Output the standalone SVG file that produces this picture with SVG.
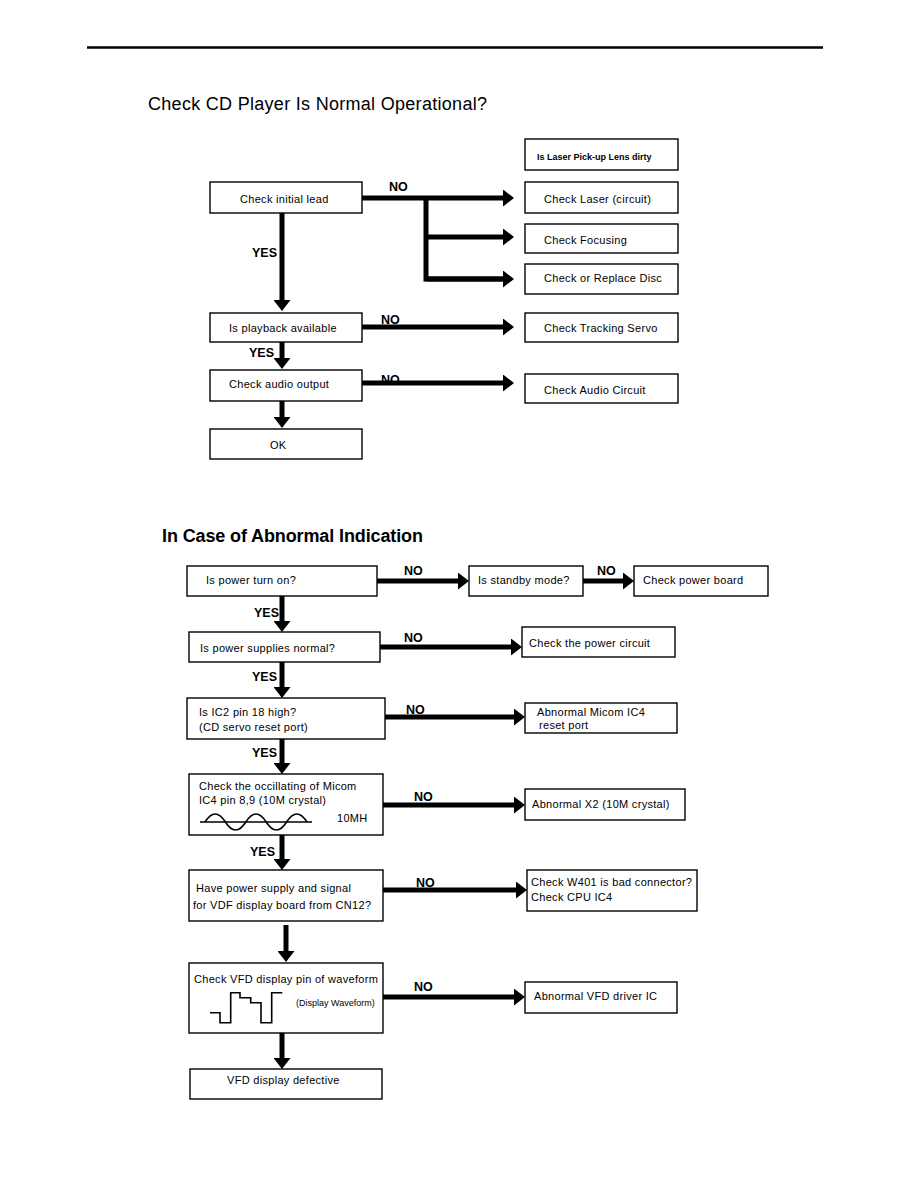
<svg xmlns="http://www.w3.org/2000/svg" width="918" height="1188" viewBox="0 0 918 1188">
<style>
.bx{fill:#fff;stroke:#000;stroke-width:1.4}
.t{font-family:"Liberation Sans",Arial,sans-serif;font-size:11px;letter-spacing:0.3px;fill:#000}
.s{font-family:"Liberation Sans",Arial,sans-serif;font-size:9px;font-weight:bold;fill:#000}
.sn{font-family:"Liberation Sans",Arial,sans-serif;font-size:9px;fill:#000}
.lb{font-family:"Liberation Sans",Arial,sans-serif;font-size:12.5px;font-weight:bold;fill:#000}
.c{fill:none;stroke:#000;stroke-width:5}
.w{fill:none;stroke:#000;stroke-width:1.6}
</style>
<defs>
<marker id="ah" markerUnits="userSpaceOnUse" markerWidth="11" markerHeight="17" refX="5" refY="8.5" orient="auto">
<path d="M0,0 L11,8.5 L0,17 Z" fill="#000"/>
</marker>
</defs>
<rect width="918" height="1188" fill="#fff"/>
<line x1="87" y1="47.5" x2="823" y2="47.5" stroke="#000" stroke-width="2.5"/>
<text x="148" y="110" font-family="'Liberation Sans',Arial,sans-serif" font-size="18" textLength="339" lengthAdjust="spacing">Check CD Player Is Normal Operational?</text>
<text x="162" y="542" font-family="'Liberation Sans',Arial,sans-serif" font-size="18" font-weight="bold" textLength="261" lengthAdjust="spacing">In Case of Abnormal Indication</text>

<g id="connectors">
<path class="c" d="M362,198 H508" marker-end="url(#ah)"/>
<path class="c" d="M426,198 V279 H508" />
<path class="c" d="M426,237 H508" marker-end="url(#ah)"/>
<path class="c" d="M426,279 H508" marker-end="url(#ah)"/>
<path class="c" d="M282,213 V305" marker-end="url(#ah)"/>
<path class="c" d="M362,327 H508" marker-end="url(#ah)"/>
<path class="c" d="M282,342 V363" marker-end="url(#ah)"/>
<path class="c" d="M362,383 H508" marker-end="url(#ah)"/>
<path class="c" d="M282,401 V422" marker-end="url(#ah)"/>
<text class="lb" x="389" y="191">NO</text>
<text class="lb" x="252" y="257">YES</text>
<text class="lb" x="381" y="324">NO</text>
<text class="lb" x="249" y="357">YES</text>
<text class="lb" x="381" y="384">NO</text>
<path class="c" d="M377,581 H463" marker-end="url(#ah)"/>
<path class="c" d="M583,581 H628" marker-end="url(#ah)"/>
<path class="c" d="M282,596 V626" marker-end="url(#ah)"/>
<path class="c" d="M380,647 H516" marker-end="url(#ah)"/>
<path class="c" d="M282,662 V692" marker-end="url(#ah)"/>
<path class="c" d="M385,717 H519" marker-end="url(#ah)"/>
<path class="c" d="M282,739 V768" marker-end="url(#ah)"/>
<path class="c" d="M383,805 H519" marker-end="url(#ah)"/>
<path class="c" d="M282,835 V864" marker-end="url(#ah)"/>
<path class="c" d="M383,890 H521" marker-end="url(#ah)"/>
<path class="c" d="M286,925 V956" marker-end="url(#ah)"/>
<path class="c" d="M382,997 H519" marker-end="url(#ah)"/>
<path class="c" d="M282,1033 V1063" marker-end="url(#ah)"/>
<text class="lb" x="404" y="575">NO</text>
<text class="lb" x="597" y="575">NO</text>
<text class="lb" x="254" y="617">YES</text>
<text class="lb" x="404" y="642">NO</text>
<text class="lb" x="252" y="681">YES</text>
<text class="lb" x="406" y="714">NO</text>
<text class="lb" x="252" y="757">YES</text>
<text class="lb" x="414" y="801">NO</text>
<text class="lb" x="250" y="856">YES</text>
<text class="lb" x="416" y="887">NO</text>
<text class="lb" x="414" y="991">NO</text>
</g>

<g id="n_lens"><rect class="bx" x="525" y="139" width="153" height="31"/><text class="s" x="537" y="160">Is Laser Pick-up Lens dirty</text></g>
<g id="n_initial"><rect class="bx" x="210" y="182" width="152" height="31"/><text class="t" x="240" y="203">Check initial lead</text></g>
<g id="n_laser"><rect class="bx" x="525" y="182" width="153" height="31"/><text class="t" x="544" y="203">Check Laser (circuit)</text></g>
<g id="n_focus"><rect class="bx" x="525" y="224" width="153" height="29"/><text class="t" x="544" y="244">Check Focusing</text></g>
<g id="n_disc"><rect class="bx" x="525" y="264" width="153" height="30"/><text class="t" x="544" y="282">Check or Replace Disc</text></g>
<g id="n_playback"><rect class="bx" x="210" y="313" width="152" height="29"/><text class="t" x="229" y="332">Is playback available</text></g>
<g id="n_tracking"><rect class="bx" x="525" y="313" width="153" height="29"/><text class="t" x="544" y="332">Check Tracking Servo</text></g>
<g id="n_audio"><rect class="bx" x="210" y="370" width="152" height="31"/><text class="t" x="229" y="388">Check audio output</text></g>
<g id="n_audiocircuit"><rect class="bx" x="525" y="374" width="153" height="29"/><text class="t" x="544" y="394">Check Audio Circuit</text></g>
<g id="n_ok"><rect class="bx" x="210" y="429" width="152" height="30"/><text class="t" x="270" y="449">OK</text></g>

<g id="n_poweron"><rect class="bx" x="187" y="566" width="190" height="30"/><text class="t" x="206" y="584">Is power turn on?</text></g>
<g id="n_standby"><rect class="bx" x="469" y="566" width="114" height="30"/><text class="t" x="478" y="584">Is standby mode?</text></g>
<g id="n_powerboard"><rect class="bx" x="634" y="566" width="134" height="30"/><text class="t" x="643" y="584">Check power board</text></g>
<g id="n_supplies"><rect class="bx" x="189" y="632" width="191" height="30"/><text class="t" x="200" y="652">Is power supplies normal?</text></g>
<g id="n_powercircuit"><rect class="bx" x="522" y="627" width="153" height="30"/><text class="t" x="529" y="647">Check the power circuit</text></g>
<g id="n_ic2"><rect class="bx" x="187" y="698" width="198" height="41"/><text class="t" x="199" y="716">Is IC2 pin 18 high?</text><text class="t" x="199" y="731">(CD servo reset port)</text></g>
<g id="n_micom"><rect class="bx" x="525" y="703" width="152" height="30"/><text class="t" x="537" y="716">Abnormal Micom IC4</text><text class="t" x="539" y="729">reset port</text></g>
<g id="n_osc"><rect class="bx" x="189" y="774" width="194" height="61"/><text class="t" x="199" y="790">Check the occillating of Micom</text><text class="t" x="199" y="804">IC4 pin 8,9 (10M crystal)</text><text class="t" x="337" y="822">10MH</text>
<line class="w" x1="200" y1="822" x2="312" y2="822"/>
<path class="w" d="M205,822 Q215.2,806 225.4,822 Q235.6,838 245.8,822 Q256,806 266.2,822 Q276.4,838 286.6,822 Q296.8,806 307,822"/></g>
<g id="n_x2"><rect class="bx" x="525" y="789" width="160" height="31"/><text class="t" x="532" y="808">Abnormal X2 (10M crystal)</text></g>
<g id="n_cn12"><rect class="bx" x="189" y="870" width="194" height="51"/><text class="t" x="196" y="892">Have power supply and signal</text><text class="t" x="193" y="909">for VDF display board from CN12?</text></g>
<g id="n_w401"><rect class="bx" x="527" y="870" width="170" height="41"/><text class="t" x="531" y="886">Check W401 is bad connector?</text><text class="t" x="531" y="901">Check CPU IC4</text></g>
<g id="n_vfdwave"><rect class="bx" x="189" y="963" width="194" height="70"/><text class="t" x="194" y="983">Check VFD display pin of waveform</text>
<polyline class="w" points="210,1012.7 220,1012.7 220,1022.7 230.7,1022.7 230.7,992.7 240,992.7 240,997.7 250.7,997.7 250.7,1002.7 261,1002.7 261,1022.7 271.7,1022.7 271.7,992.7 282.3,992.7"/>
<text class="sn" x="296" y="1006">(Display Waveform)</text></g>
<g id="n_vfddriver"><rect class="bx" x="525" y="982" width="152" height="31"/><text class="t" x="534" y="1000">Abnormal VFD driver IC</text></g>
<g id="n_vfddefective"><rect class="bx" x="190" y="1069" width="192" height="30"/><text class="t" x="227" y="1084">VFD display defective</text></g>
</svg>
